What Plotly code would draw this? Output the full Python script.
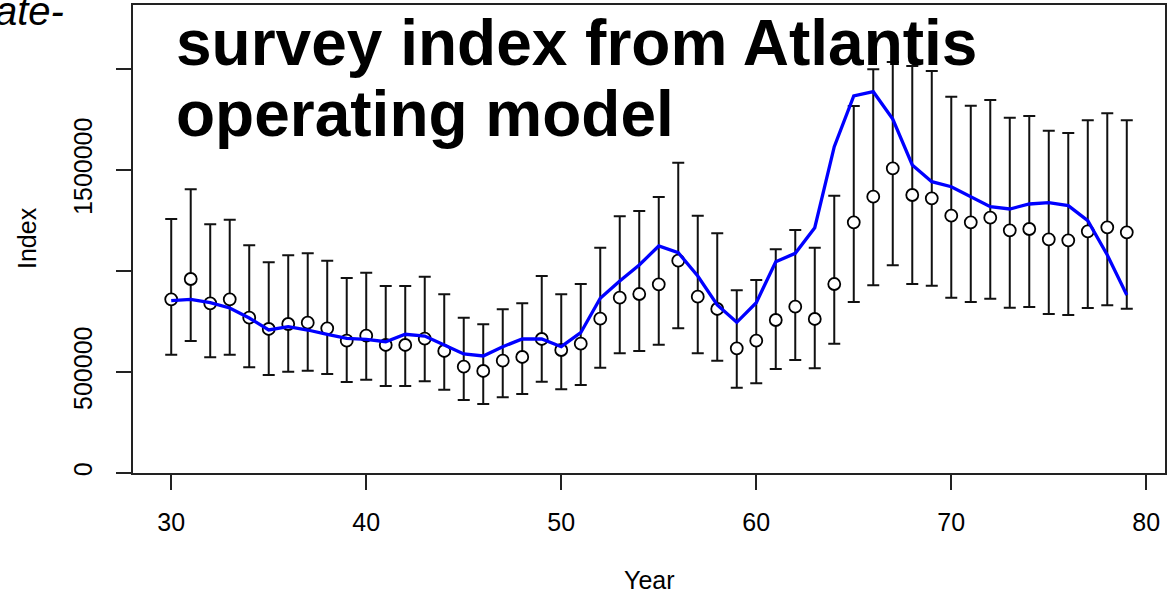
import plotly.graph_objects as go

# ---------------- data ----------------
years = list(range(30, 80))

survey_index = [
    859900, 960400, 840100, 859900, 768800, 712900, 737600, 744100, 716300, 655000,
    679700, 633700, 633700, 664900, 604000, 526200, 505000, 555900, 574300, 663400,
    608900, 640100, 763900, 867800, 886100, 934200, 1051000, 872800, 811900, 617300,
    655000, 757400, 823300, 762400, 935600, 1241100, 1367800, 1508400, 1376200, 1359900,
    1273800, 1241100, 1263900, 1201500, 1207900, 1156900, 1152000, 1196500, 1216300, 1191600,
]
upper_ci = [
    1257400, 1404500, 1231200, 1254000, 1127200, 1043100, 1077700, 1087600, 1051000, 965300,
    991600, 925700, 925700, 971800, 884700, 768800, 736100, 810400, 840100, 975200,
    884700, 935600, 1115400, 1270800, 1297000, 1366300, 1536200, 1273800, 1186600, 904500,
    955400, 1107400, 1203000, 1115400, 1372800, 1816800, 1998500, 2035000, 2014900, 1990100,
    1862900, 1818300, 1846500, 1758900, 1767300, 1694600, 1683200, 1746000, 1780700, 1746000,
]
lower_ci = [
    585600, 653500, 572800, 585600, 523300, 485100, 501500, 506400, 490100, 450500,
    461900, 430700, 430700, 454000, 412400, 361400, 341600, 374800, 391100, 452000,
    414400, 435600, 521300, 592600, 604000, 635100, 716300, 592600, 555900, 422300,
    444100, 514900, 559400, 518300, 640100, 846500, 929200, 1028200, 935600, 927200,
    867800, 846500, 862900, 818300, 821800, 787100, 782200, 816800, 830200, 813400,
]
model_index = [
    853000, 859900, 843100, 816800, 767300, 707900, 724300, 707900, 686600, 666800,
    661900, 650000, 686600, 678200, 633700, 589100, 579200, 625200, 663400, 663400,
    625200, 694600, 864800, 950500, 1029700, 1123800, 1090600, 975200, 831700, 746000,
    843100, 1046000, 1087600, 1214400, 1615400, 1866300, 1887600, 1752500, 1524800, 1442100,
    1417300, 1367800, 1318300, 1306900, 1331700, 1338100, 1323300, 1249000, 1079200, 881200,
]

x_ticks = [30, 40, 50, 60, 70, 80]
y_ticks = [0, 500000, 1000000, 1500000, 2000000]
y_tick_text = ["0", "500000", "", "1500000", ""]

title_line1 = "survey index from Atlantis"
title_line2 = "operating model"
corner_text = "ate-"
x_label = "Year"
y_label = "Index"

# ---------------- layout geometry ----------------
W, H = 1171, 597
L, R, T, B = 133, 6, 5, 124
PW, PH = W - L - R, H - T - B

def px(xp):  # pixel x -> paper x
    return (xp - L) / PW

def py(yp):  # pixel y -> paper y
    return (H - B - yp) / PH

FONT = "Liberation Sans, Arial, sans-serif"

err_plus = [u - v for u, v in zip(upper_ci, survey_index)]
err_minus = [v - l for v, l in zip(survey_index, lower_ci)]

fig = go.Figure()

fig.add_trace(go.Scatter(
    x=years, y=survey_index, mode="markers",
    marker=dict(symbol="circle", size=12, color="white",
                line=dict(color="black", width=1.8)),
    error_y=dict(type="data", symmetric=False, array=err_plus,
                 arrayminus=err_minus, color="#111111", thickness=2, width=6),
    showlegend=False, hoverinfo="x+y",
))

fig.add_trace(go.Scatter(
    x=years, y=model_index, mode="lines",
    line=dict(color="#0000FF", width=3.3),
    showlegend=False,
))

axis_common = dict(
    showgrid=False, zeroline=False, showline=True, mirror=True,
    linecolor="#222222", linewidth=2, ticks="outside", ticklen=15,
    tickwidth=2, tickcolor="#222222",
    tickfont=dict(family=FONT, size=25, color="black"),
)

fig.update_layout(
    width=W, height=H,
    margin=dict(l=L, r=R, t=T, b=B, autoexpand=False),
    paper_bgcolor="white", plot_bgcolor="white",
    xaxis=dict(range=[28.04, 80.96], tickvals=x_ticks, ticklabelstandoff=11,
               **axis_common),
    yaxis=dict(range=[0, 2316800], tickvals=y_ticks, ticktext=y_tick_text,
               tickangle=-90, ticklabelstandoff=14, **axis_common),
    annotations=[
        dict(text=f"<b>{title_line1}</b>", x=px(174), y=py(43), xref="paper",
             yref="paper", xanchor="left", yanchor="middle", showarrow=False,
             font=dict(family=FONT, size=64, color="black")),
        dict(text=f"<b>{title_line2}</b>", x=px(174), y=py(114), xref="paper",
             yref="paper", xanchor="left", yanchor="middle", showarrow=False,
             font=dict(family=FONT, size=64, color="black")),
        dict(text=f"<i>{corner_text}</i>", x=px(66), y=py(11), xref="paper",
             yref="paper", xanchor="right", yanchor="middle", showarrow=False,
             font=dict(family=FONT, size=40, color="black")),
        dict(text=y_label, x=px(27), y=py(238), xref="paper", yref="paper",
             xanchor="center", yanchor="middle", textangle=-90, showarrow=False,
             font=dict(family=FONT, size=25, color="black")),
        dict(text=x_label, x=px(649), y=py(580), xref="paper", yref="paper",
             xanchor="center", yanchor="middle", showarrow=False,
             font=dict(family=FONT, size=25, color="black")),
    ],
)

fig.write_html("out.html")
